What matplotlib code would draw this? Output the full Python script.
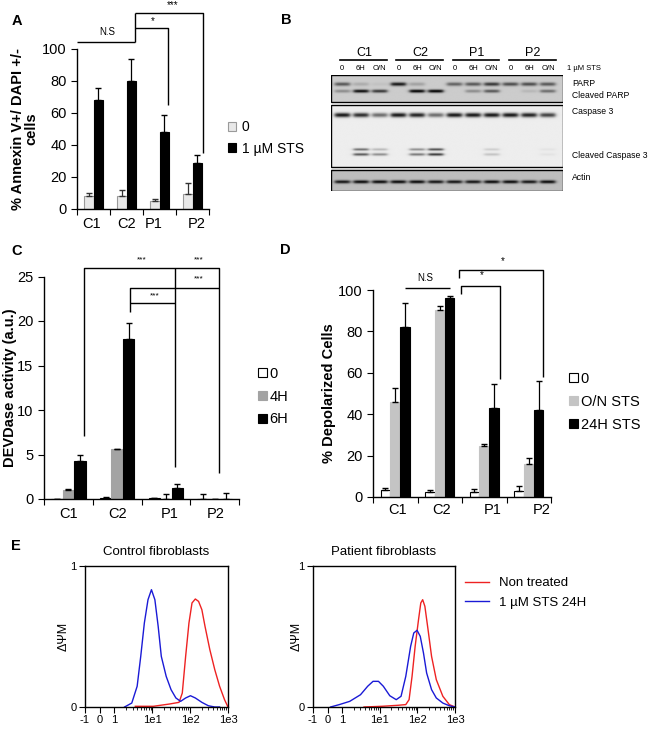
import matplotlib
matplotlib.use('Agg')

import numpy as np
import matplotlib.pyplot as plt
from matplotlib.patches import Rectangle

plt.rcParams['font.family'] = ['Liberation Sans', 'DejaVu Sans']
plt.rcParams['axes.linewidth'] = 1.0

W, H = 650, 731

# PANEL A - Annexin V / DAPI
A_GROUPS = ["C1", "C2", "P1", "P2"]
A_LABEL_X = [-0.05, 1.015, 1.83, 3.14]
A_ZERO = [8, 8, 5, 9.5]
A_ZERO_ERR = [2, 4, 1.5, 7]
A_STS = [68, 80, 48, 29]
A_STS_ERR = [7.5, 14, 11, 4.5]

# PANEL C - DEVDase activity
C_GROUPS = ["C1", "C2", "P1", "P2"]
C_LABEL_X = [0.01, 1.01, 2.07, 3.03]
C_ZERO = [0.05, 0.15, 0.1, 0.0]
C_ZERO_ERR = [0.0, 0.05, 0.05, 0.55]
C_4H = [1.05, 5.6, 0.0, 0.0]
C_4H_ERR = [0.08, 0.05, 0.6, 0.0]
C_6H = [4.25, 18.0, 1.25, 0.0]
C_6H_ERR = [0.7, 1.8, 0.4, 0.7]

# PANEL D - depolarized cells
D_GROUPS = ["C1", "C2", "P1", "P2"]
D_LABEL_X = [0.06, 1.05, 2.2, 3.3]
D_ZERO = [3.5, 2.5, 2.5, 3.0]
D_ZERO_ERR = [0.8, 1.0, 1.2, 2.5]
D_ON = [46, 90.5, 24.5, 16]
D_ON_ERR = [6.5, 1.7, 1.3, 2.8]
D_24H = [82, 96, 43, 42]
D_24H_ERR = [11.5, 1.0, 11.5, 14]

# PANEL B - western blot band intensities per lane (C1, C2, P1, P2 x 0/6H/O/N)
B_GROUPS = ["C1", "C2", "P1", "P2"]
B_LANES = ["0", "6H", "O/N"] * 4
PARP = [0.55, 0.15, 0.05, 0.85, 0.2, 0.0, 0.5, 0.55, 0.7, 0.6, 0.6, 0.55]
CLEAVED_PARP = [0.3, 0.9, 0.7, 0.0, 0.95, 0.95, 0.0, 0.3, 0.55, 0.0, 0.1, 0.45]
CASP3 = [1.0, 0.9, 0.6, 1.0, 0.95, 0.6, 1.0, 1.0, 1.0, 1.0, 0.95, 0.8]
CL_CASP3_UP = [0.0, 0.6, 0.25, 0.0, 0.45, 0.75, 0.0, 0.0, 0.15, 0.0, 0.0, 0.05]
CL_CASP3_LO = [0.0, 0.7, 0.45, 0.0, 0.55, 0.85, 0.0, 0.0, 0.2, 0.0, 0.0, 0.05]
ACTIN = [0.8, 0.85, 0.85, 0.85, 0.85, 0.8, 0.8, 0.8, 0.85, 0.85, 0.8, 0.85]

# PANEL E - flow cytometry histograms (x = fluorescence, y = normalised count)
CTRL_BLUE_X = [1.85, 2.87, 3.98, 4.95, 6.17, 7.7, 9.5, 11.7, 14.3, 17.3, 23.3,
               31.3, 42, 56, 76, 102, 137, 204, 302, 447, 600]
CTRL_BLUE_Y = [0, 0.028, 0.147, 0.359, 0.596, 0.761, 0.832, 0.761, 0.572, 0.359,
               0.217, 0.123, 0.064, 0.040, 0.064, 0.080, 0.064, 0.033, 0.009, 0, 0]
CTRL_RED_X = [3.56, 10.6, 28.2, 51, 62, 76, 93, 112, 137, 167, 204, 247, 331,
              447, 600, 810, 1000]
CTRL_RED_Y = [0.005, 0.005, 0.021, 0.033, 0.099, 0.359, 0.596, 0.738, 0.766,
              0.749, 0.69, 0.572, 0.407, 0.265, 0.147, 0.052, 0]
PAT_BLUE_X = [0.2, 0.8, 1.58, 3.06, 4.75, 6.6, 9.2, 12.4, 18.4, 27.3, 36.7, 49,
              66, 80, 98, 119, 145, 176, 238, 318, 475, 705, 1000]
PAT_BLUE_Y = [0, 0.017, 0.040, 0.087, 0.147, 0.182, 0.182, 0.147, 0.080, 0.052,
              0.076, 0.217, 0.430, 0.525, 0.544, 0.501, 0.383, 0.241, 0.123,
              0.064, 0.028, 0.009, 0]
PAT_RED_X = [3.8, 11.3, 30, 49, 60, 72, 87, 107, 123, 138, 158, 192, 238, 318,
             475, 705, 1000]
PAT_RED_Y = [0, 0.005, 0.012, 0.017, 0.052, 0.217, 0.430, 0.619, 0.738, 0.761,
             0.714, 0.548, 0.359, 0.194, 0.076, 0.017, 0]
E_TICKS = [-1, 0, 1, 10, 100, 1000]
E_TICKLABELS = ["-1", "0", "1", "1e1", "1e2", "1e3"]


def px_axes(fig, left, top, right, bottom):
    return fig.add_axes([left / W, 1 - bottom / H, (right - left) / W, (bottom - top) / H])


def style_bar_axes(ax, ymax, ystep, label_x, labels):
    ax.spines["top"].set_visible(False)
    ax.spines["right"].set_visible(False)
    ax.set_xlim(-0.5, 3.5)
    ax.set_ylim(0, ymax)
    ax.set_yticks(np.arange(0, ymax + 0.01, ystep))
    ax.set_xticks([-0.5, 0.5, 1.5, 2.5, 3.5], [""] * 5)
    ax.set_xticks(label_x, labels, minor=True)
    ax.tick_params(axis="x", which="major", direction="out", length=4)
    ax.tick_params(axis="x", which="minor", length=0, pad=6, labelsize=10.5)
    ax.tick_params(axis="y", direction="out", length=4, labelsize=10.5)


def up_err(vals):
    return [np.zeros(len(vals)), vals]


def draw_lines(ax, pts, lw=1.0):
    xs, ys = zip(*pts)
    ax.plot(xs, ys, color="black", lw=lw, clip_on=False, solid_capstyle="butt")


fig = plt.figure(figsize=(W / 100, H / 100), dpi=100)

# ---------------- A ----------------
axA = px_axes(fig, 77, 49, 209, 209)
x = np.arange(4)
bw = 0.3
bA0 = axA.bar(x - bw / 2, A_ZERO, bw, color="#e8e8e8", edgecolor="#9a9a9a", lw=0.8,
              yerr=up_err(A_ZERO_ERR), error_kw=dict(ecolor="#333333", capsize=2.5, elinewidth=0.9))
bA1 = axA.bar(x + bw / 2, A_STS, bw, color="black", edgecolor="black", lw=0.8,
              yerr=up_err(A_STS_ERR), error_kw=dict(ecolor="black", capsize=2.5, elinewidth=0.9))
style_bar_axes(axA, 100, 20, A_LABEL_X, A_GROUPS)
axA.set_ylabel("% Annexin V+/ DAPI +/-\ncells", fontsize=10.5, fontweight="bold", linespacing=1.0)
axA.yaxis.set_label_coords(-0.29, 0.5)
axA.legend([bA0, bA1], ["0", "1 µM STS"], loc="upper left", frameon=False,
           bbox_to_anchor=(228 / W, 1 - 120 / H), bbox_transform=fig.transFigure,
           fontsize=10, handlelength=0.6, handleheight=0.6, handletextpad=0.4,
           labelspacing=0.55, borderpad=0, borderaxespad=0)
# significance brackets
draw_lines(axA, [(-0.5, 104.4), (1.26, 104.4)])
draw_lines(axA, [(1.26, 104.4), (1.26, 122.5)])
draw_lines(axA, [(1.26, 113), (2.26, 113), (2.26, 65)])
draw_lines(axA, [(1.26, 122.5), (3.32, 122.5), (3.32, 35)])
axA.text(0.41, 110.6, "N.S", fontsize=7, ha="center", va="center")
axA.text(1.80, 117.5, "*", fontsize=7, ha="center", va="center")
axA.text(2.41, 127.5, "***", fontsize=7, ha="center", va="center")

# ---------------- C ----------------
axC = px_axes(fig, 44, 276.5, 239, 499)
bw = 0.235
ekw = dict(ecolor="black", capsize=2.5, elinewidth=0.9)
bC0 = axC.bar(x - bw, C_ZERO, bw, color="white", edgecolor="black", lw=0.8,
              yerr=up_err(C_ZERO_ERR), error_kw=ekw)
bC1 = axC.bar(x, C_4H, bw, color="#a3a3a3", edgecolor="#a3a3a3", lw=0.8,
              yerr=up_err(C_4H_ERR), error_kw=ekw)
bC2 = axC.bar(x + bw, C_6H, bw, color="black", edgecolor="black", lw=0.8,
              yerr=up_err(C_6H_ERR), error_kw=ekw)
style_bar_axes(axC, 25, 5, C_LABEL_X, C_GROUPS)
axC.set_ylabel("DEVDase activity (a.u.)", fontsize=10.5, fontweight="bold")
axC.yaxis.set_label_coords(-0.14, 0.5)
axC.legend([bC0, bC1, bC2], ["0", "4H", "6H"], loc="upper left", frameon=False,
           bbox_to_anchor=(258 / W, 1 - 367 / H), bbox_transform=fig.transFigure,
           fontsize=10.5, handlelength=0.6, handleheight=0.6, handletextpad=0.2,
           labelspacing=0.6, borderpad=0, borderaxespad=0)
draw_lines(axC, [(0.32, 7.1), (0.32, 25.9), (3.09, 25.9), (3.09, 2.9)])
draw_lines(axC, [(2.19, 25.9), (2.19, 3.6)])
draw_lines(axC, [(1.255, 21.0), (1.255, 23.7), (3.09, 23.7)])
draw_lines(axC, [(1.255, 22.0), (2.19, 22.0)])
for tx, ty in [(1.5, 26.9), (2.68, 26.9), (2.68, 24.7), (1.77, 22.8)]:
    axC.text(tx, ty, "***", fontsize=6, ha="center", va="center")

# ---------------- D ----------------
axD = px_axes(fig, 373, 290, 551, 497)
bw = 0.22
bD0 = axD.bar(x - bw, D_ZERO, bw, color="white", edgecolor="black", lw=0.8,
              yerr=up_err(D_ZERO_ERR), error_kw=ekw)
bD1 = axD.bar(x, D_ON, bw, color="#c4c4c4", edgecolor="#c4c4c4", lw=0.8,
              yerr=up_err(D_ON_ERR), error_kw=ekw)
bD2 = axD.bar(x + bw, D_24H, bw, color="black", edgecolor="black", lw=0.8,
              yerr=up_err(D_24H_ERR), error_kw=ekw)
style_bar_axes(axD, 100, 20, D_LABEL_X, D_GROUPS)
axD.tick_params(axis="x", which="minor", pad=4)
axD.set_ylabel("% Depolarized Cells", fontsize=10.5, fontweight="bold")
axD.yaxis.set_label_coords(-0.21, 0.5)
axD.legend([bD0, bD1, bD2], ["0", "O/N STS", "24H STS"], loc="upper left", frameon=False,
           bbox_to_anchor=(569 / W, 1 - 372 / H), bbox_transform=fig.transFigure,
           fontsize=10.5, handlelength=0.6, handleheight=0.6, handletextpad=0.2,
           labelspacing=0.6, borderpad=0, borderaxespad=0)
draw_lines(axD, [(0.22, 101), (1.23, 101)])
draw_lines(axD, [(1.48, 98), (1.48, 102), (2.35, 102), (2.35, 57)])
draw_lines(axD, [(1.43, 106), (1.43, 109.7), (3.32, 109.7), (3.32, 58)])
axD.text(0.67, 106, "N.S", fontsize=7, ha="center", va="center")
axD.text(1.95, 107, "*", fontsize=7, ha="center", va="center")
axD.text(2.42, 114, "*", fontsize=7, ha="center", va="center")

# ---------------- B (western blot) ----------------
axB = px_axes(fig, 331, 75, 563, 191)
axB.set_xlim(-0.6, 11.8)
axB.set_ylim(191, 75)
axB.axis("off")
xs = np.linspace(-0.6, 11.8, 500)
ys = np.linspace(75, 191, 300)
XX, YY = np.meshgrid(xs, ys)
img = np.ones_like(XX)
panels = [(75, 102, 0.80), (105, 167, 0.93), (170, 191, 0.74)]
for top, bot, bg in panels:
    img[(YY >= top) & (YY <= bot)] = bg
bands = [(PARP, 84.0, 1.8), (CLEAVED_PARP, 91.0, 1.6), (CASP3, 115.0, 2.2),
         (CL_CASP3_UP, 149.5, 1.2), (CL_CASP3_LO, 154.5, 1.3), (ACTIN, 182.0, 1.6)]
for vals, yc, sy in bands:
    for lane, v in enumerate(vals):
        xprof = 1.0 / (1.0 + np.exp((np.abs(XX - lane) - 0.4) / 0.06))
        img -= 0.85 * v * xprof * np.exp(-((YY - yc) / sy) ** 2)
img = np.clip(img, 0, 1)
axB.imshow(img, cmap="gray", vmin=0, vmax=1, extent=(-0.6, 11.8, 191, 75),
           aspect="auto", interpolation="bilinear")
for top, bot, bg in panels:
    axB.add_patch(Rectangle((-0.6, top), 12.4, bot - top, fill=False, ec="black", lw=1.0))
for i, g in enumerate(B_GROUPS):
    axB.text(3 * i + 1.2, 53, g, fontsize=9, ha="center", va="center", clip_on=False)
    axB.plot([3 * i - 0.1, 3 * i + 2.4], [60, 60], color="black", lw=1.2, clip_on=False)
for lane, lab in enumerate(B_LANES):
    axB.text(lane, 69, lab, fontsize=5.5, ha="center", va="center", clip_on=False)
axB.text(12.0, 69, "1 µM STS", fontsize=5.5, ha="left", va="center", clip_on=False)
for lab, yy in [("PARP", 84), ("Cleaved PARP", 95), ("Caspase 3", 112),
                ("Cleaved Caspase 3", 155), ("Actin", 178)]:
    axB.text(12.3, yy, lab, fontsize=6.2, ha="left", va="center", clip_on=False)

# ---------------- E (flow cytometry) ----------------
def style_flow(ax, title, lab_x):
    ax.set_xscale("symlog", linthresh=1, linscale=0.35)
    ax.set_xlim(-1, 1000)
    ax.set_ylim(0, 1)
    ax.set_xticks(E_TICKS, E_TICKLABELS)
    minors = [m * d for d in (1, 10, 100) for m in range(2, 10)]
    ax.set_xticks(minors, minor=True)
    ax.set_yticks([0, 1], ["0", "1"])
    ax.tick_params(axis="both", which="major", direction="out", length=4, labelsize=8, pad=2)
    ax.tick_params(axis="x", which="minor", direction="out", length=2)
    ax.set_title(title, fontsize=9.5, pad=8)
    ax.set_ylabel("ΔΨM", fontsize=9)
    ax.yaxis.set_label_coords(lab_x, 0.5)


axE1 = px_axes(fig, 85, 566, 228, 707)
axE1.plot(CTRL_RED_X, CTRL_RED_Y, color="#ee2222", lw=1.0)
axE1.plot(CTRL_BLUE_X, CTRL_BLUE_Y, color="#1a1ad6", lw=1.0)
style_flow(axE1, "Control fibroblasts", -0.105)

axE2 = px_axes(fig, 313, 566, 455, 707)
lr, = axE2.plot(PAT_RED_X, PAT_RED_Y, color="#ee2222", lw=1.0)
lb, = axE2.plot(PAT_BLUE_X, PAT_BLUE_Y, color="#1a1ad6", lw=1.0)
style_flow(axE2, "Patient fibroblasts", -0.07)
axE2.legend([lr, lb], ["Non treated", "1 µM STS 24H"], loc="upper left", frameon=False,
            bbox_to_anchor=(465 / W, 1 - 577 / H), bbox_transform=fig.transFigure,
            fontsize=9.5, handlelength=1.8, handletextpad=0.8, labelspacing=0.55,
            borderpad=0, borderaxespad=0)

# panel letters
for lab, px_, py_ in [("A", 17, 21), ("B", 286, 20), ("C", 17, 251), ("D", 285, 250), ("E", 16, 546)]:
    fig.text(px_ / W, 1 - py_ / H, lab, fontsize=10.5, fontweight="bold", ha="center", va="center")

fig.savefig("out.png", dpi=100)
